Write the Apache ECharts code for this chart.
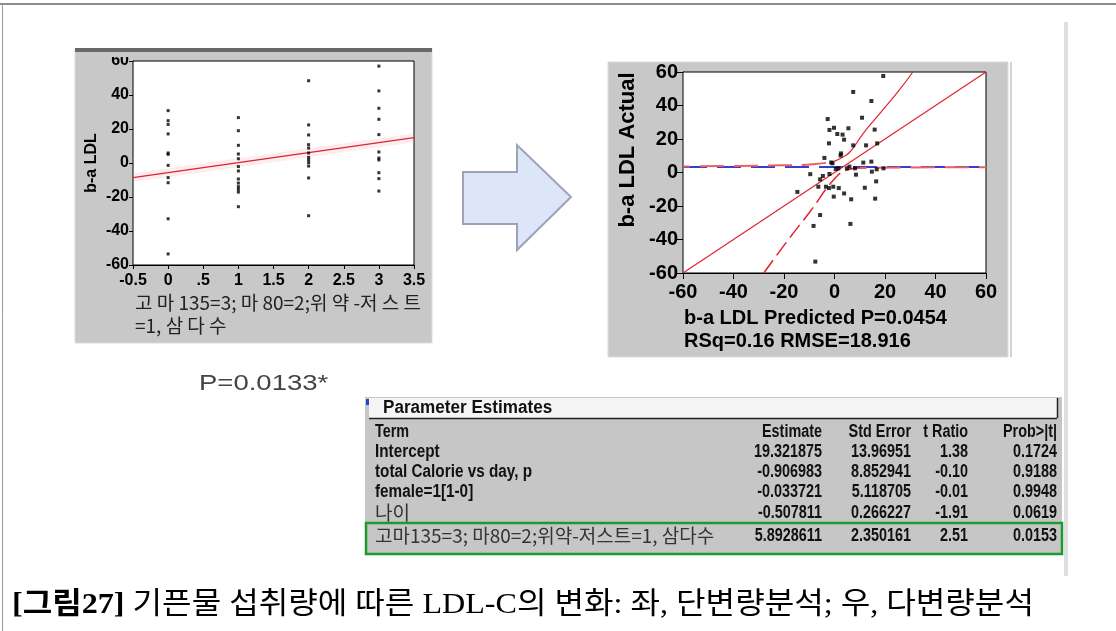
<!DOCTYPE html>
<html><head><meta charset="utf-8">
<script src="https://cdn.jsdelivr.net/npm/echarts@6/dist/echarts.min.js"></script>
<style>html,body{margin:0;padding:0;background:#fff}#c{width:1116px;height:631px}</style>
</head><body><div id="c"></div>
<script>
// ---- Left chart data (univariate) ----
const leftGroups = [0, 1, 2, 3];
const leftVals0 = [30.8, 24.9, 22.7, 17.1, 5.9, 5.1, -1.4, -8.6, -11.6, -32.8, -53.5];
const leftVals1 = [26.7, 19, 10.4, 5.3, 2.5, -2.1, -4.7, -9.4, -11.8, -13.9, -15.5, -17.1, -25.7];
const leftVals2 = [48.4, 22.4, 16.5, 10.8, 8.8, 5.9, 3.3, 1.8, 0.2, -1.8, -8.8, -31];
const leftVals3 = [57, 42.4, 32.2, 25.7, 16.7, 6.5, 2.9, 1.8, -5.7, -9.2, -16.5];
const leftFitX = [-0.5, 3.5];
const leftFitY = [-8.6, 14.9];
const leftXTickLabels = ['-0.5', '0', '.5', '1', '1.5', '2', '2.5', '3', '3.5'];
const leftYTickLabels = ['-60', '-40', '-20', '0', '20', '40', '60'];

// ---- Right chart data (leverage plot) ----
const rightPredicted = [19.3, 7.4, 14.6, -2.7, 10.9, -0.2, -2.0, 5.5, 1.1, 3.2, 3.8, 15.9, -2.2, 7.4, 12.5, 16.9, 2.6, 2.4, -4.0, 14.6, 11.4, -0.8, 0.5, 5.9, 8.1, 8.5, 14.8, 16.7, -9.6, -5.7, -4.6, -2.0, 16.5, -14.7, -6.4, -3.4, -2.2, -0.5, 1.7, 3.8, -0.3, 6.6, 12.0, 16.1, -5.7, -8.3, 6.3, -7.6, 1.5, 4.9, 19.4, -1.3];
const rightActual    = [57.6, 48.1, 42.7, 31.9, 32.7, 26.7, 25.4, 26.4, 23, 22.6, 19.6, 25.6, 17.4, 16.2, 16.2, 17.4, 11.4, 10.2, 8.7, 6.5, 5.9, 5.5, 2.1, 3.5, 2.5, -1.3, 0.5, 1.9, -1.0, -4.1, -2.1, -0.9, -5.3, -11.6, -8.5, -8.5, -9.3, -8.5, -9.3, -12.5, -14.4, -16, -9.1, -15.6, -25.4, -31.9, -30.7, -53.2, 2.5, 2.5, 2.5, 6];
const fitX = [-60, 60];
const fitY = [-60, 60];
const meanX = [-60, 60];
const meanY = [3.3, 3.3];
const upperFlatX = [-60, -40, -20, -8.4, -0.4];
const upperFlatY = [3.6, 3.9, 4.3, 4.9, 6.5];
const upperSteepX = [-0.4, 3, 6.2, 11.4, 18, 25.7, 31];
const upperSteepY = [6.5, 9, 12.4, 23.4, 35.3, 49.3, 60];
const lowerSteepX = [-28, -18.9, -9.7, -0.4, 4.9, 10];
const lowerSteepY = [-60, -41.3, -23.4, -4.5, 1.5, 2.7];
const lowerFlatX = [10, 30, 60];
const lowerFlatY = [2.7, 3.0, 3.2];
const rightTickLabels = ['-60', '-40', '-20', '0', '20', '40', '60'];

// ---- Table ----
const tableHeaders = ['Term', 'Estimate', 'Std Error', 't Ratio', 'Prob>|t|'];
const terms = ['Intercept', 'total Calorie vs day, p', 'female=1[1-0]', '나이', '고마135=3; 마80=2;위약-저스트=1, 삼다수'];
const estimates = ['19.321875', '-0.906983', '-0.033721', '-0.507811', '5.8928611'];
const stdErrors = ['13.96951', '8.852941', '5.118705', '0.266227', '2.350161'];
const tRatios = ['1.38', '-0.10', '-0.01', '-1.91', '2.51'];
const probs = ['0.1724', '0.9188', '0.9948', '0.0619', '0.0153'];

const leftXName1 = '고 마 135=3; 마 80=2;위 약 -저 스 트';
const leftXName2 = '=1, 삼 다 수';
const leftYName = 'b-a LDL';
const rightYName = 'b-a LDL Actual';
const rightXName1 = 'b-a LDL Predicted P=0.0454';
const rightXName2 = 'RSq=0.16 RMSE=18.916';
const pText = 'P=0.0133*';
const captionBold = '[그림27]';
const captionRest = ' 기픈물 섭취량에 따른 LDL-C의 변화: 좌, 단변량분석; 우, 다변량분석';

const zip = (xs, ys) => xs.map((x, i) => [x, ys[i]]);
const leftPoints = [];
[leftVals0, leftVals1, leftVals2, leftVals3].forEach((arr, gi) => arr.forEach(v => leftPoints.push([leftGroups[gi], v])));

const BOLD = 'Liberation Sans';
const TFONT = "'Liberation Sans',Arial,sans-serif";
const KR = "'Noto Sans CJK KR',sans-serif";
const red = '#e3222e';
const panelGray = '#c8c8c8';

function axisCommon(labels, min, interval, fs, tickLen, margin) {
  return {
    type: 'value', min: min, max: min + interval * (labels.length - 1), interval: interval,
    splitLine: { show: false },
    axisLine: { show: true, onZero: false, lineStyle: { color: '#000', width: 1 } },
    axisTick: { show: true, inside: false, length: tickLen, lineStyle: { color: '#000' } },
    axisLabel: {
      show: true, margin: margin, color: '#000', fontFamily: BOLD, fontWeight: 'bold', fontSize: fs,
      showMinLabel: true, showMaxLabel: true,
      formatter: v => labels[Math.round((v - min) / interval)]
    }
  };
}

const tableRowsY = [452, 472, 492, 513, 536];
const colRight = [null, 822, 911, 968, 1057];
const TS = 0.8;
const TF = 'bold 18px ' + TFONT;
const tableTexts = [];
function tText(str, x, y, align, font, fill, sx) {
  return { type: 'text', z: 5, x: x, y: y, scaleX: sx, style: { text: str, x: 0, y: 0, align: align, verticalAlign: 'middle', fill: fill, font: font } };
}
tableHeaders.forEach((h, i) => {
  tableTexts.push(tText(h, i === 0 ? 375 : colRight[i], 432, i === 0 ? 'left' : 'right', TF, '#111', TS));
});
terms.forEach((t, r) => {
  const isKr = /[가-힣]/.test(t);
  tableTexts.push(isKr ? tText(t, 375, tableRowsY[r], 'left', '19px ' + KR, '#333', 1)
                       : tText(t, 375, tableRowsY[r], 'left', TF, '#111', 0.85));
  [estimates, stdErrors, tRatios, probs].forEach((col, c) => {
    tableTexts.push(tText(col[r], colRight[c + 1], tableRowsY[r], 'right', TF, '#111', TS));
  });
});

const chart = echarts.init(document.getElementById('c'), null, { renderer: 'canvas' });
chart.setOption({
  animation: false,
  backgroundColor: '#fff',
  grid: [
    { left: 133, top: 61, width: 281, height: 204, show: true, backgroundColor: '#fff', borderColor: '#000', borderWidth: 1, z: 1 },
    { left: 683, top: 72, width: 303, height: 201, show: true, backgroundColor: '#fff', borderColor: '#000', borderWidth: 1, z: 1 }
  ],
  xAxis: [
    Object.assign(axisCommon(leftXTickLabels, -0.5, 0.5, 16, 4, 8), { gridIndex: 0 }),
    Object.assign(axisCommon(rightTickLabels, -60, 20, 20, 6, 9), { gridIndex: 1 })
  ],
  yAxis: [
    Object.assign(axisCommon(leftYTickLabels, -60, 20, 16, 4, 4), { gridIndex: 0 }),
    Object.assign(axisCommon(rightTickLabels, -60, 20, 20, 6, 5), { gridIndex: 1 })
  ],
  series: [
    { type: 'line', xAxisIndex: 0, yAxisIndex: 0, data: zip(leftFitX, leftFitY), symbol: 'none', silent: true, lineStyle: { color: 'rgba(255,140,150,0.16)', width: 9 }, z: 2 },
    { type: 'line', xAxisIndex: 0, yAxisIndex: 0, data: zip(leftFitX, leftFitY), symbol: 'none', lineStyle: { color: '#d8233a', width: 1.2 }, z: 3 },
    { type: 'scatter', xAxisIndex: 0, yAxisIndex: 0, data: leftPoints, symbol: 'rect', symbolSize: 3, itemStyle: { color: '#000' }, z: 4 },

    { type: 'line', xAxisIndex: 1, yAxisIndex: 1, data: zip(meanX, meanY), symbol: 'none', lineStyle: { color: '#3b3bd0', width: 2, type: [24, 10] }, z: 3 },
    { type: 'line', xAxisIndex: 1, yAxisIndex: 1, data: zip(upperFlatX, upperFlatY), symbol: 'none', smooth: true, lineStyle: { color: '#e86060', width: 2, type: [24, 10], dashOffset: 17 }, z: 3 },
    { type: 'line', xAxisIndex: 1, yAxisIndex: 1, data: zip(lowerFlatX, lowerFlatY), symbol: 'none', smooth: true, lineStyle: { color: '#e86060', width: 2, type: [24, 10], dashOffset: 17 }, z: 3 },
    { type: 'line', xAxisIndex: 1, yAxisIndex: 1, data: zip(fitX, fitY), symbol: 'none', lineStyle: { color: red, width: 1.2 }, z: 3 },
    { type: 'line', xAxisIndex: 1, yAxisIndex: 1, data: zip(upperSteepX, upperSteepY), symbol: 'none', smooth: true, lineStyle: { color: red, width: 1.2 }, z: 3 },
    { type: 'line', xAxisIndex: 1, yAxisIndex: 1, data: zip(lowerSteepX, lowerSteepY), symbol: 'none', smooth: true, lineStyle: { color: red, width: 1.5, type: [16, 6] }, z: 3 },
    { type: 'scatter', xAxisIndex: 1, yAxisIndex: 1, data: zip(rightPredicted, rightActual), symbol: 'rect', symbolSize: 4, itemStyle: { color: '#000' }, z: 4 }
  ],
  graphic: { elements: [
    // page frame
    { type: 'line', z: -1, shape: { x1: 0, y1: 4, x2: 1116, y2: 4 }, style: { stroke: '#8c8c8c', lineWidth: 2 } },
    { type: 'line', z: -1, shape: { x1: 2.5, y1: 4, x2: 2.5, y2: 631 }, style: { stroke: '#9a9a9a', lineWidth: 1 } },
    { type: 'line', z: -1, shape: { x1: 1066, y1: 22, x2: 1066, y2: 576 }, style: { stroke: '#dedede', lineWidth: 4 } },
    // left panel
    { type: 'rect', z: -1, shape: { x: 75, y: 49, width: 357, height: 294 }, style: { fill: panelGray, stroke: '#dcdcdc', lineWidth: 1 } },
    { type: 'rect', z: 10, shape: { x: 75, y: 48, width: 357, height: 4 }, style: { fill: '#686868' } },
    { type: 'rect', z: 10, shape: { x: 100, y: 52, width: 32, height: 5 }, style: { fill: panelGray } },
    // right panel
    { type: 'rect', z: -1, shape: { x: 608, y: 62, width: 400, height: 295 }, style: { fill: panelGray, stroke: '#dcdcdc', lineWidth: 1 } },
    { type: 'line', z: -1, shape: { x1: 1011, y1: 62, x2: 1011, y2: 357 }, style: { stroke: '#c4c4c4', lineWidth: 1.5 } },
    // arrow
    { type: 'polygon', z: -1, shape: { points: [[463, 172], [517, 172], [517, 145], [571, 197], [517, 250], [517, 224], [463, 224]] }, style: { fill: '#dce6f8', stroke: '#9ea2b8', lineWidth: 2 } },
    // axis names
    { type: 'text', z: 5, x: 92, y: 163, rotation: Math.PI / 2, style: { text: leftYName, align: 'center', verticalAlign: 'middle', fill: '#000', font: 'bold 16px ' + BOLD } },
    { type: 'text', z: 5, style: { text: leftXName1, x: 135, y: 303, verticalAlign: 'middle', fill: '#222', font: '19px ' + KR } },
    { type: 'text', z: 5, style: { text: leftXName2, x: 135, y: 326, verticalAlign: 'middle', fill: '#222', font: '19px ' + KR } },
    { type: 'text', z: 5, x: 628, y: 150, rotation: Math.PI / 2, style: { text: rightYName, align: 'center', verticalAlign: 'middle', fill: '#000', font: 'bold 22px ' + BOLD } },
    { type: 'text', z: 5, style: { text: rightXName1, x: 684, y: 318, verticalAlign: 'middle', fill: '#000', font: 'bold 20px ' + BOLD } },
    { type: 'text', z: 5, style: { text: rightXName2, x: 684, y: 341, verticalAlign: 'middle', fill: '#000', font: 'bold 20px ' + BOLD } },
    // p text
    { type: 'text', z: 5, x: 199, y: 384, scaleX: 1.25, style: { text: pText, x: 0, y: 0, verticalAlign: 'middle', fill: '#444', font: '22px ' + BOLD } },
    // table
    { type: 'rect', z: -1, shape: { x: 365, y: 397, width: 697, height: 158 }, style: { fill: '#c6c6c6' } },
    { type: 'rect', z: -1, shape: { x: 369, y: 398, width: 688, height: 20 }, style: { fill: '#f5f5f5' } },
    { type: 'line', z: 0, shape: { x1: 369, y1: 418.5, x2: 1057, y2: 418.5 }, style: { stroke: '#222', lineWidth: 1.5 } },
    { type: 'line', z: 0, shape: { x1: 1057.5, y1: 398, x2: 1057.5, y2: 418 }, style: { stroke: '#222', lineWidth: 1.5 } },
    { type: 'rect', z: 0, shape: { x: 366, y: 399, width: 3, height: 6 }, style: { fill: '#2a44c8' } },
    tText('Parameter Estimates', 383, 408, 'left', 'bold 18px ' + TFONT, '#111', 0.95),
    ...tableTexts,
    { type: 'rect', z: 6, shape: { x: 366, y: 523, width: 696, height: 31 }, style: { fill: 'none', stroke: '#1f9a2a', lineWidth: 2.5 } },
    // caption
    { type: 'text', z: 5, x: 12, y: 605, scaleX: 1.07, style: { x: 0, y: 0, verticalAlign: 'middle', fill: '#000',
      text: '{b|' + captionBold + '}{r|' + captionRest + '}',
      rich: { b: { fontWeight: 'bold', fontSize: 30, fontFamily: "'Liberation Serif','Noto Sans CJK KR'", fill: '#000' },
              r: { fontSize: 30, fontFamily: "'Liberation Serif','Noto Sans CJK KR'", fill: '#000' } } } }
  ] }
});
</script></body></html>
